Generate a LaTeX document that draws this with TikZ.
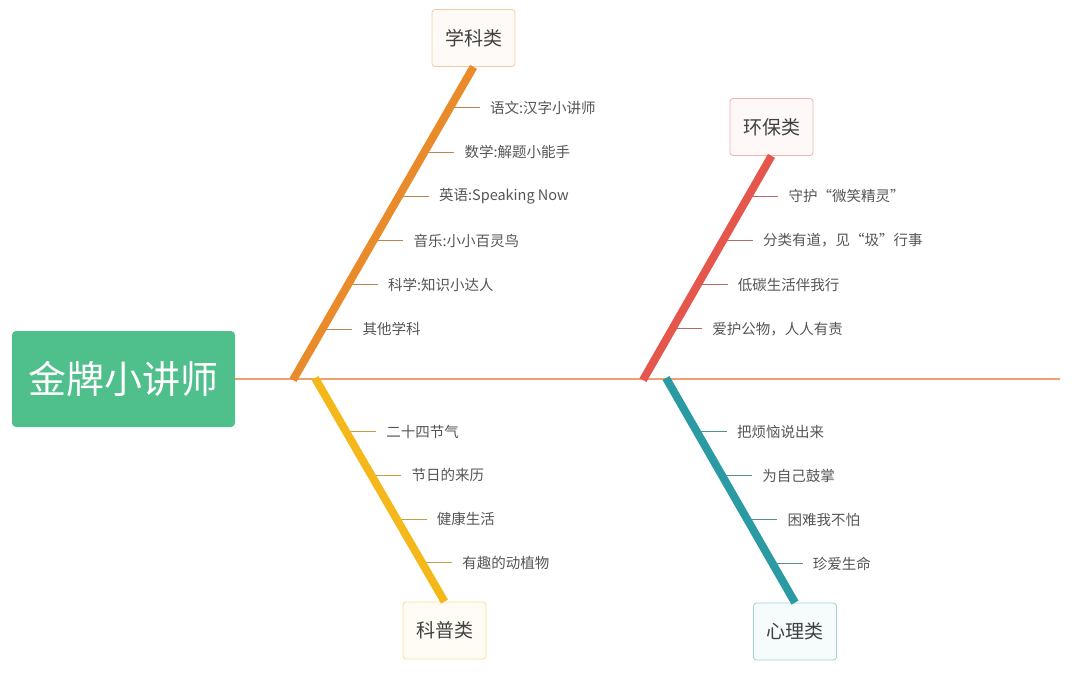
\documentclass[tikz,border=0pt]{standalone}
\usepackage{fontspec}
\setmainfont{Noto Sans CJK SC}
\usetikzlibrary{calc}

\definecolor{headgreen}{HTML}{4FBF8C}
\definecolor{spinecol}{HTML}{F0A070}
\definecolor{xkcol}{HTML}{E98A2B}
\definecolor{hbcol}{HTML}{E5574C}
\definecolor{kpcol}{HTML}{F4B81B}
\definecolor{xlcol}{HTML}{2A9BA3}
\definecolor{itemgray}{HTML}{555555}

\tikzset{
  headbox/.style={fill=headgreen, rounded corners=4pt, minimum width=223pt, minimum height=96pt,
    text=white, font=\fontsize{38}{42}\selectfont},
  catbox/.style={draw=#1!45, fill=#1!4, line width=0.8pt, rounded corners=3pt,
    minimum width=83pt, minimum height=57pt, text=black!75, font=\fontsize{19}{22}\selectfont},
  bone/.style={draw=#1, line width=8pt},
  twig/.style={draw=#1!55!gray, line width=1pt, shorten >=10pt},
  item/.style={inner sep=0pt, anchor=west, text=itemgray, font=\fontsize{14.5}{16}\selectfont}
}

\begin{document}
\begin{tikzpicture}[x=1pt, y=-1pt]
  \useasboundingbox (0,0) rectangle (1076,672);

  % head and spine
  \node[headbox] (head) at (123.5,379) {金牌小讲师};
  \coordinate (tail) at (1060,379);
  \draw[spinecol, line width=2pt] (head.east) -- (tail);

  % category boxes
  \node[catbox=xkcol] (k1) at (473.5,38) {学科类};
  \node[catbox=hbcol] (k2) at (771.5,127) {环保类};
  \node[catbox=kpcol] (k3) at (444.5,630.5) {科普类};
  \node[catbox=xlcol] (k4) at (795,631.5) {心理类};

  % bone feet on the spine
  \coordinate (b1) at (293,380);
  \coordinate (b2) at (643,380);
  \coordinate (b3) at (315,378);
  \coordinate (b4) at (666,378);

  % twigs: 学科类
  \foreach \txt [count=\i] in {语文:汉字小讲师, 数学:解题小能手, 英语:Speaking Now,
      音乐:小小百灵鸟, 科学:知识小达人, 其他学科} {
    \pgfmathsetmacro{\f}{(273-44.4*(\i-1))/314}
    \coordinate (xk\i) at ($(b1)!\f!(k1.south)$);
    \node[item] (xkt\i) at ([xshift=40pt]xk\i) {\txt};
    \draw[twig=xkcol] (xk\i) -- (xkt\i.west);
  }

  % twigs: 环保类
  \foreach \txt [count=\i] in {守护“微笑精灵”, 分类有道，见“圾”行事, 低碳生活伴我行, 爱护公物，人人有责} {
    \pgfmathsetmacro{\f}{(184-44.3*(\i-1))/224.5}
    \coordinate (hb\i) at ($(b2)!\f!(k2.south)$);
    \node[item] (hbt\i) at ([xshift=40pt]hb\i) {\txt};
    \draw[twig=hbcol] (hb\i) -- (hbt\i.west);
  }

  % twigs: 科普类
  \foreach \txt [count=\i] in {二十四节气, 节日的来历, 健康生活, 有趣的动植物} {
    \pgfmathsetmacro{\f}{(54+44*(\i-1))/225}
    \coordinate (kp\i) at ($(b3)!\f!(k3.north)$);
    \node[item] (kpt\i) at ([xshift=40pt]kp\i) {\txt};
    \draw[twig=kpcol] (kp\i) -- (kpt\i.west);
  }

  % twigs: 心理类
  \foreach \txt [count=\i] in {把烦恼说出来, 为自己鼓掌, 困难我不怕, 珍爱生命} {
    \pgfmathsetmacro{\f}{(54+44*(\i-1))/225}
    \coordinate (xl\i) at ($(b4)!\f!(k4.north)$);
    \node[item] (xlt\i) at ([xshift=40pt]xl\i) {\txt};
    \draw[twig=xlcol] (xl\i) -- (xlt\i.west);
  }

  % bones
  \draw[bone=xkcol] (b1) -- (k1.south);
  \draw[bone=hbcol] (b2) -- (k2.south);
  \draw[bone=kpcol] (b3) -- (k3.north);
  \draw[bone=xlcol] (b4) -- (k4.north);
\end{tikzpicture}
\end{document}
